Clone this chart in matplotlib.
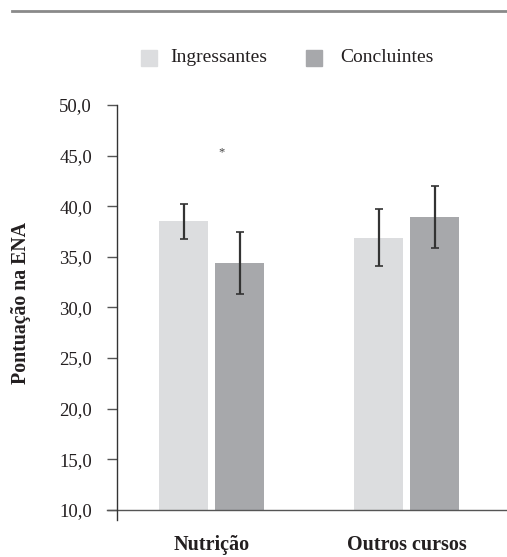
import matplotlib.pyplot as plt
from matplotlib.patches import Rectangle
from matplotlib.lines import Line2D

# dados do gráfico
categorias = ['Nutrição', 'Outros cursos']
ingressantes = [38.5, 36.9]
ingressantes_err = [1.75, 2.85]
concluintes = [34.4, 38.9]
concluintes_err = [3.05, 3.05]
yticks = [10, 15, 20, 25, 30, 35, 40, 45, 50]

COR_ING = '#dcdddf'
COR_CON = '#a7a8ab'
COR_TXT = '#231f20'

plt.rcParams['font.family'] = ['Liberation Serif', 'DejaVu Serif']

fig = plt.figure(figsize=(5.07, 5.57), dpi=100)
ax = fig.add_axes([0.2308, 0.0664, 0.7692, 0.7451])

x = list(range(len(categorias)))
w = 0.251
off = 0.1436
ax.bar([i - off for i in x], [v - 10 for v in ingressantes], w, bottom=10, color=COR_ING)
ax.bar([i + off for i in x], [v - 10 for v in concluintes], w, bottom=10, color=COR_CON)
ax.errorbar([i - off for i in x], ingressantes, yerr=ingressantes_err, fmt='none',
            ecolor='#333333', elinewidth=1.6, capsize=3, capthick=1.2)
ax.errorbar([i + off for i in x], concluintes, yerr=concluintes_err, fmt='none',
            ecolor='#333333', elinewidth=1.6, capsize=3, capthick=1.2)

# asterisco de significância
ax.text(0.049, 45.3, '*', ha='center', va='center', fontsize=9, color='#444444')

ax.set_xlim(-0.4846, 1.515)
ax.set_ylim(9, 50)
ax.set_yticks(yticks)
ax.set_yticklabels([f'{t:.1f}'.replace('.', ',') for t in yticks], fontsize=13.5, color=COR_TXT)
ax.tick_params(axis='y', direction='out', length=7, width=1, color='#555555', pad=11)
ax.set_xticks([])

for s in ['top', 'right', 'bottom']:
    ax.spines[s].set_visible(False)
ax.spines['left'].set_color('#333333')
ax.spines['left'].set_linewidth(1)

# linha do eixo x na altura de 10,0
ax.plot([-0.5359, 1.515], [10, 10], color='#555555', lw=1, clip_on=False)

ax.set_ylabel('Pontuação na ENA', fontsize=14.3, fontweight='bold', color=COR_TXT)
ax.yaxis.set_label_coords(-0.221, 0.524)

for i, c in zip(x, categorias):
    fig.text((211.5 + 195 * i) / 507, 1 - 545 / 557, c, ha='center', va='center',
             fontsize=14.5, fontweight='bold', color=COR_TXT)

# legenda
fig.add_artist(Rectangle((141 / 507, 1 - 66 / 557), 16 / 507, 16 / 557,
                         transform=fig.transFigure, color=COR_ING))
fig.add_artist(Rectangle((306 / 507, 1 - 66 / 557), 16 / 507, 16 / 557,
                         transform=fig.transFigure, color=COR_CON))
fig.text(170 / 507, 1 - 58 / 557, 'Ingressantes', va='center', fontsize=14, color=COR_TXT)
fig.text(340 / 507, 1 - 58 / 557, 'Concluintes', va='center', fontsize=14, color=COR_TXT)

# linha superior
fig.add_artist(Line2D([12 / 507, 1], [1 - 10.5 / 557] * 2, transform=fig.transFigure,
                      color='#8a8a8a', lw=2))

fig.savefig('out.png', dpi=100)
